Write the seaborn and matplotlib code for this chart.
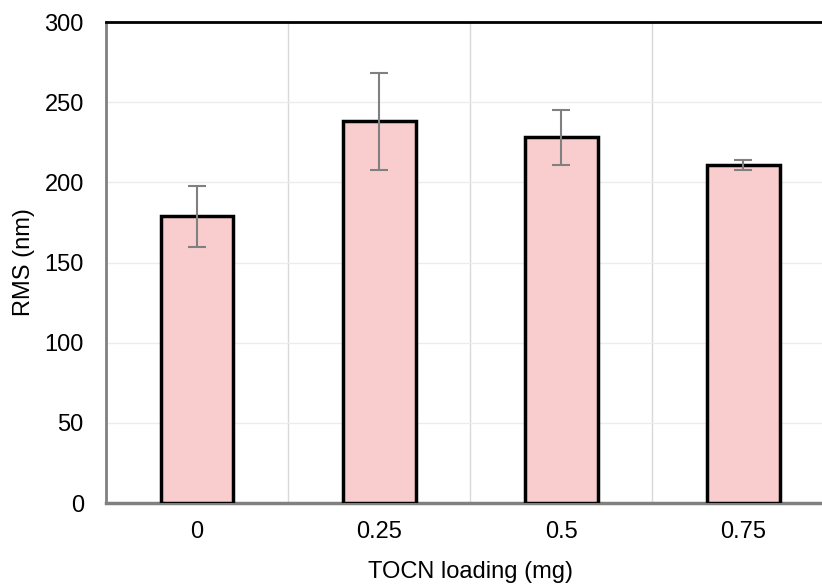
import matplotlib
matplotlib.use("Agg")
import matplotlib.pyplot as plt
import seaborn as sns
import pandas as pd
import numpy as np

loading = ["0", "0.25", "0.5", "0.75"]
rms = [179, 238, 228, 211]
rms_err = [19, 30, 17, 3]

sns.set_theme(style="white")
plt.rcParams["font.family"] = ["Liberation Sans", "DejaVu Sans"]

df = pd.DataFrame({"loading": loading, "rms": rms})

fig = plt.figure(figsize=(8.22, 5.87), dpi=100)
ax = fig.add_axes([0.129, 0.143, 0.886, 0.8195])

sns.barplot(data=df, x="loading", y="rms", order=loading, errorbar=None,
            color="#f9cdcd", edgecolor="black", linewidth=2.5, width=0.4,
            saturation=1, ax=ax, zorder=3)
ax.errorbar(np.arange(len(loading)), rms, yerr=rms_err, fmt="none",
            ecolor="#808080", elinewidth=1.5, capsize=6.5, capthick=1.5, zorder=4)

ax.set_xlim(-0.5, len(loading) - 0.5)
ax.set_ylim(0, 300)
ax.set_yticks(np.arange(0, 301, 50))
ax.set_xticks(np.arange(0.5, len(loading) - 0.5), minor=True)
ax.grid(True, which="minor", axis="x", color="#d9d9d9", linewidth=1, zorder=0)
ax.grid(True, which="major", axis="y", color="#ececec", linewidth=1, zorder=0)
ax.grid(False, which="major", axis="x")
ax.set_axisbelow(True)

ax.spines["left"].set_color("#808080")
ax.spines["left"].set_linewidth(2)
ax.spines["bottom"].set_color("#808080")
ax.spines["bottom"].set_linewidth(2.5)
ax.spines["top"].set_color("black")
ax.spines["top"].set_linewidth(2)
ax.spines["right"].set_visible(False)

ax.tick_params(axis="both", which="both", length=0, labelsize=17, colors="black")
ax.tick_params(axis="x", pad=13)
ax.tick_params(axis="y", pad=16)
ax.set_xlabel("TOCN loading (mg)", fontsize=17, labelpad=13, color="black")
ax.set_ylabel("RMS (nm)", fontsize=17, labelpad=7, color="black")

fig.savefig("out.png", dpi=100)
